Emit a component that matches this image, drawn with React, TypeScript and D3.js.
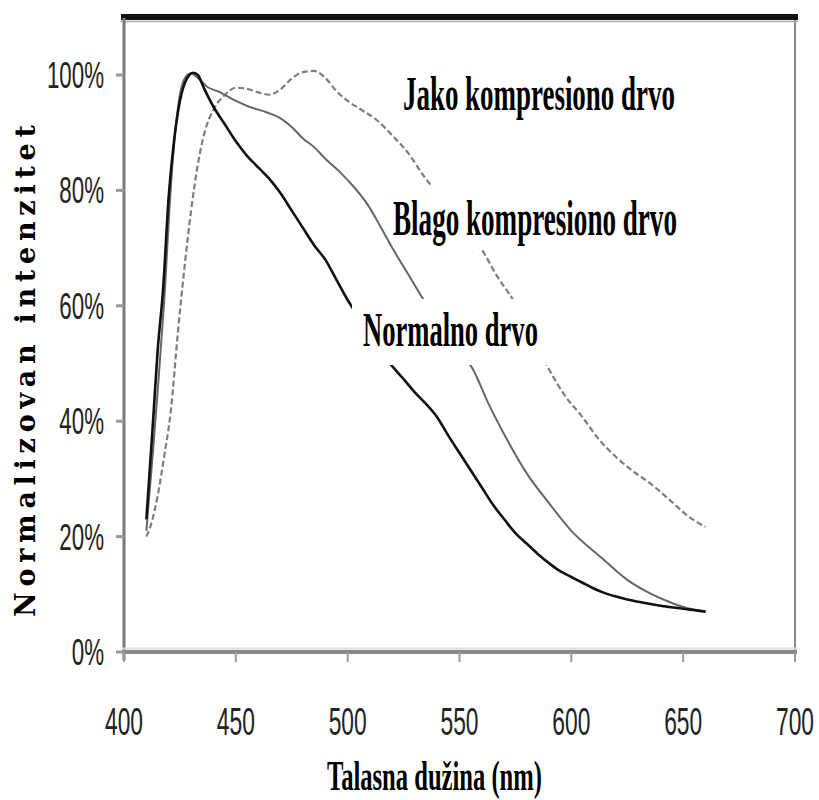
import React, { useLayoutEffect, useRef, useState } from "react";
import * as d3 from "d3";

const xTicks = [400, 450, 500, 550, 600, 650, 700];
const yTicks = [0, 20, 40, 60, 80, 100];

// [wavelength nm, normalized intensity %]
const normalDrvo: [number, number][] = [
  [410, 23], [413, 40], [415, 52], [417.5, 63], [420, 79], [422.5, 89], [425, 95.5],
  [428, 99.3], [431, 100.4], [433, 100], [436, 97.5], [440, 94.5], [445, 91.5],
  [450, 88.5], [455, 86], [460, 84], [465, 82], [470, 79.5], [475, 76.5], [480, 73.5],
  [485, 70.5], [490, 68], [495, 64.5], [500, 61], [505, 58], [510, 55], [515, 52],
  [520, 49.5], [525, 47.3], [530, 45], [535, 43], [540, 40.7], [545, 37.5], [550, 34.5],
  [555, 31.5], [560, 28.5], [565, 25.5], [570, 23], [575, 20.6], [580, 18.8], [585, 17],
  [590, 15.4], [595, 14], [600, 13], [605, 12], [610, 11], [615, 10.2], [620, 9.6],
  [625, 9.1], [630, 8.7], [640, 8], [650, 7.5], [660, 7],
];

const blagoKompresiono: [number, number][] = [
  [410, 21], [413, 35], [415, 45], [418, 61], [421, 81], [424, 94], [427, 99.3],
  [430, 100.3], [433, 99.5], [437, 98], [443, 97], [450, 95.5], [456, 94.5], [464, 93.5],
  [470, 92.5], [475, 91], [480, 89], [485, 87.5], [490, 85.5], [497, 83], [503, 80.5],
  [509, 77.5], [515, 73.5], [520, 70], [527, 65.5], [534, 61], [540, 57.5], [547, 53.5],
  [556, 49], [563, 43], [571, 37], [580, 31], [590, 25.8], [600, 21], [613, 16.5],
  [625, 12.5], [635, 10.2], [645, 8.5], [652, 7.6], [660, 7],
];

const jakoKompresiono: [number, number][] = [
  [410, 20], [412, 22], [415, 27], [418, 34], [421, 42], [424, 55], [427, 66.5],
  [430, 76.5], [433, 84.5], [436, 90], [440, 94], [445, 96.5], [450, 97.8], [455, 97.6],
  [460, 97], [465, 96.6], [470, 97.5], [475, 99.4], [480, 100.5], [485, 100.7],
  [490, 99.5], [495, 97.2], [500, 95.5], [506, 94], [513, 92.2], [520, 89.5],
  [527, 86.5], [534, 82.5], [540, 79.5], [547, 76], [553, 73], [560, 69.7], [567, 65],
  [574, 61], [582, 55], [590, 49], [597, 44.5], [605, 40.7], [612, 37], [620, 33.8],
  [627, 31.5], [635, 29.3], [645, 26], [652, 23.6], [660, 21.7],
];

const seriesLabels = ["Jako kompresiono drvo", "Blago kompresiono drvo", "Normalno drvo"];
const xTitle = "Talasna dužina (nm)";
const yTitle = "Normalizovan intenzitet";

const labelFont = "'Liberation Serif', 'DejaVu Serif', serif";
const tickFont = "'Liberation Sans', Arial, sans-serif";

function FitText(props: {
  x: number;
  y: number;
  width: number;
  fontSize: number;
  text: string;
  fontFamily: string;
  fontWeight?: string;
  fill?: string;
  anchor?: "start" | "middle" | "end";
}) {
  const ref = useRef<SVGTextElement>(null);
  const [s, setS] = useState(1);
  useLayoutEffect(() => {
    if (ref.current) {
      const len = ref.current.getComputedTextLength();
      if (len > 0) setS(props.width / len);
    }
  }, [props.text, props.width, props.fontSize]);
  return (
    <text
      ref={ref}
      transform={`translate(${props.x},${props.y}) scale(${s},1)`}
      fontFamily={props.fontFamily}
      fontWeight={props.fontWeight || "normal"}
      fontSize={props.fontSize}
      textAnchor={props.anchor || "start"}
      fill={props.fill || "#000"}
    >
      {props.text}
    </text>
  );
}

export default function App() {
  const x = d3.scaleLinear().domain([400, 700]).range([124, 795]);
  const y = d3.scaleLinear().domain([0, 100]).range([652, 75]);
  const line = d3
    .line<[number, number]>()
    .x((d) => x(d[0]))
    .y((d) => y(d[1]))
    .curve(d3.curveMonotoneX);

  return (
    <svg
      width={819}
      height={800}
      style={{ position: "absolute", left: 0, top: 0, background: "#fff" }}
    >
      <rect x={0} y={0} width={819} height={800} fill="#fff" />
      {/* frame */}
      <line x1={795} x2={795} y1={18} y2={652} stroke="#8a8a8a" strokeWidth={2} />
      <rect x={121} y={14} width={677} height={6} fill="#111" />
      <line x1={121} x2={798} y1={21.5} y2={21.5} stroke="#aaa" strokeWidth={1.5} />

      {/* lines */}
      <path d={line(jakoKompresiono) || ""} fill="none" stroke="#7e7e7e" strokeWidth={2.2} strokeDasharray="6,3" />
      <path d={line(blagoKompresiono) || ""} fill="none" stroke="#666" strokeWidth={2} />
      <path d={line(normalDrvo) || ""} fill="none" stroke="#111" strokeWidth={2.6} />

      {/* label boxes */}
      <rect x={400} y={70} width={282} height={55} fill="#fff" />
      <rect x={393} y={185} width={290} height={63} fill="#fff" />
      <rect x={352} y={299} width={198} height={66} fill="#fff" />

      <FitText x={403} y={110} width={272} fontSize={48} fontWeight="bold"
        fontFamily={labelFont} text={seriesLabels[0]} />
      <FitText x={393} y={235} width={284} fontSize={50} fontWeight="bold"
        fontFamily={labelFont} text={seriesLabels[1]} />
      <FitText x={363} y={346} width={175} fontSize={48} fontWeight="bold"
        fontFamily={labelFont} text={seriesLabels[2]} />

      {/* axes */}
      <line x1={124} x2={124} y1={18} y2={660} stroke="#7a7a7a" strokeWidth={3} />
      <line x1={122} x2={797} y1={652} y2={652} stroke="#888" strokeWidth={4} />
      <line x1={122} x2={797} y1={648.5} y2={648.5} stroke="#ddd" strokeWidth={2} />

      {yTicks.map((t) => (
        <g key={"y" + t}>
          <line x1={116} x2={124} y1={y(t)} y2={y(t)} stroke="#999" strokeWidth={3} />
          <text
            transform={`translate(104,${y(t) + 13}) scale(0.62,1)`}
            textAnchor="end"
            fontFamily={tickFont}
            fontSize={36}
            fill="#222"
          >
            {t + "%"}
          </text>
        </g>
      ))}
      {xTicks.map((t) => (
        <g key={"x" + t}>
          <line x1={x(t)} x2={x(t)} y1={652} y2={662} stroke="#999" strokeWidth={2} />
          <text
            transform={`translate(${x(t)},735) scale(0.6,1)`}
            textAnchor="middle"
            fontFamily={tickFont}
            fontSize={38}
            fill="#222"
          >
            {String(t)}
          </text>
        </g>
      ))}

      <FitText x={327} y={790} width={215} fontSize={42} fontWeight="bold"
        fontFamily={labelFont} text={xTitle} />
      <text
        transform="translate(35,617) rotate(-90)"
        fontFamily="'DejaVu Serif', serif"
        fontWeight="bold"
        fontSize={27}
        textLength={492}
        lengthAdjust="spacing"
        fill="#000"
      >
        {yTitle}
      </text>
    </svg>
  );
}
